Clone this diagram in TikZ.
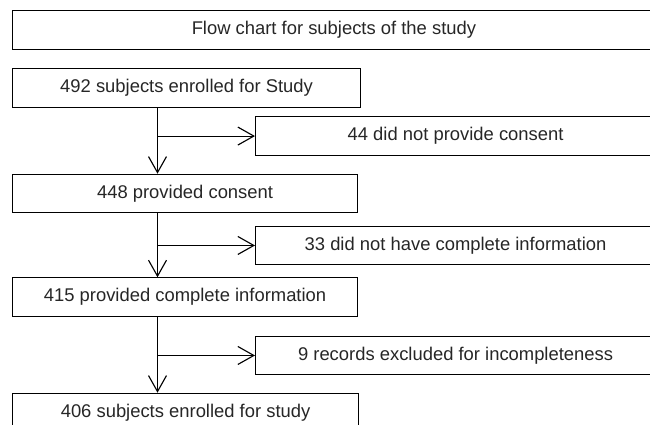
\documentclass[tikz,border=0pt]{standalone}
\usepackage{fontspec}
\setmainfont{Liberation Sans}
\usetikzlibrary{arrows.meta, positioning}

\begin{document}
\begin{tikzpicture}[
    x=0.75pt, y=-0.75pt,
    stagebox/.style={
        draw,
        line width=0.85pt,
        anchor=north west,
        minimum height=28.8pt,
        inner sep=0pt,
        font=\fontsize{13.8}{16}\selectfont,
        text=black!85
    },
    flowline/.style={
        line width=0.85pt,
        -{Straight Barb[length=12pt, width=13.5pt, line width=0.85pt]}
    }
]
\useasboundingbox (0,0) rectangle (650,425);

% Title across the top
\node[stagebox, minimum width=482pt] (title) at (12,10.3)
    {Flow chart for subjects of the study};

% Main column of stages
\node[stagebox, minimum width=261pt] (box1) at (12,68.3)
    {492 subjects enrolled for Study};
\node[stagebox, minimum width=258.75pt] (box2) at (12,173.7)
    {448 provided consent};
\node[stagebox, minimum width=258.75pt] (box3) at (12,277.3)
    {415 provided complete information};
\node[stagebox, minimum width=259.5pt] (box4) at (12,392.7)
    {406 subjects enrolled for study};

% Exclusions on the right
\node[stagebox, minimum width=300pt] (excl1) at (255,116.3)
    {44 did not provide consent};
\node[stagebox, minimum width=300pt] (excl2) at (255,225.7)
    {33 did not have complete information};
\node[stagebox, minimum width=300pt] (excl3) at (255,335.7)
    {9 records excluded for incompleteness};

% Spine of the flow
\coordinate (spine) at (157.5,0);

\draw[flowline] (box1.south -| spine) -- (box2.north -| spine);
\draw[flowline] (box2.south -| spine) -- (box3.north -| spine);
\draw[flowline] (box3.south -| spine) -- (box4.north -| spine);

% Branches to the exclusions
\draw[flowline] (excl1.west -| spine) -- (excl1.west);
\draw[flowline] (excl2.west -| spine) -- (excl2.west);
\draw[flowline] (excl3.west -| spine) -- (excl3.west);
\end{tikzpicture}
\end{document}
